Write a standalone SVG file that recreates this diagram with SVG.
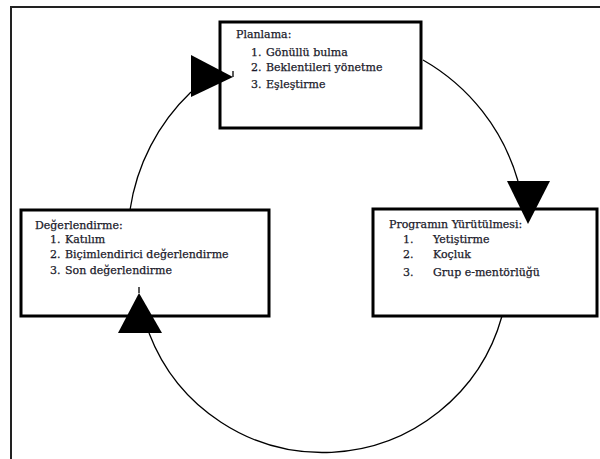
<svg xmlns="http://www.w3.org/2000/svg" width="600" height="459" viewBox="0 0 600 459">
  <style>
    .frame { fill: none; stroke: #222; stroke-width: 2; }
    .box { fill: #fff; stroke: #000; stroke-width: 3; }
    .link { fill: none; stroke: #000; stroke-width: 1.3; }
    .head { fill: #000; stroke: none; }
    text { font-family: "DejaVu Serif", "Liberation Serif", serif; font-size: 11px; fill: #1a1a2a; stroke: #1a1a2a; stroke-width: 0.25; }
  </style>

  <!-- page frame -->
  <path class="frame" d="M11,459 V7 H600"/>

  <!-- cycle connectors -->
  <g id="connectors">
    <path class="link" d="M130,210 A204,204 0 0 1 191,92"/>
    <path class="link" d="M423,60 A204,204 0 0 1 518,181"/>
    <path class="link" d="M502,316 A186,186 0 0 1 149,333"/>
  </g>

  <g id="planlama">
    <rect class="box" x="220" y="22" width="201" height="106"/>
    <text x="236" y="38">Planlama:</text>
    <text x="251" y="56">1.</text><text x="266" y="56">Gönüllü bulma</text>
    <text x="251" y="71">2.</text><text x="266" y="71">Beklentileri yönetme</text>
    <text x="251" y="88">3.</text><text x="266" y="88">Eşleştirme</text>
  </g>

  <g id="yurutme">
    <rect class="box" x="373" y="209" width="224" height="107"/>
    <text x="389" y="228">Programın Yürütülmesi:</text>
    <text x="403" y="243">1.</text><text x="433" y="243">Yetiştirme</text>
    <text x="403" y="258">2.</text><text x="433" y="258">Koçluk</text>
    <text x="403" y="276">3.</text><text x="433" y="276">Grup e-mentörlüğü</text>
  </g>

  <g id="degerlendirme">
    <rect class="box" x="21" y="210" width="248" height="106"/>
    <text x="35" y="229">Değerlendirme:</text>
    <text x="50" y="243">1.</text><text x="65" y="243">Katılım</text>
    <text x="50" y="258">2.</text><text x="65" y="258">Biçimlendirici değerlendirme</text>
    <text x="50" y="274">3.</text><text x="65" y="274">Son değerlendirme</text>
  </g>

  <!-- arrowheads -->
  <g id="arrowheads">
    <polygon class="head" points="191,55 191,97 233,77"/>
    <line class="link" x1="233" y1="71" x2="233" y2="77"/>
    <polygon class="head" points="507,181 550,181 528,224"/>
    <polygon class="head" points="139,293 118,333 162,333"/>
    <line class="link" x1="139" y1="287" x2="139" y2="293"/>
  </g>
</svg>
